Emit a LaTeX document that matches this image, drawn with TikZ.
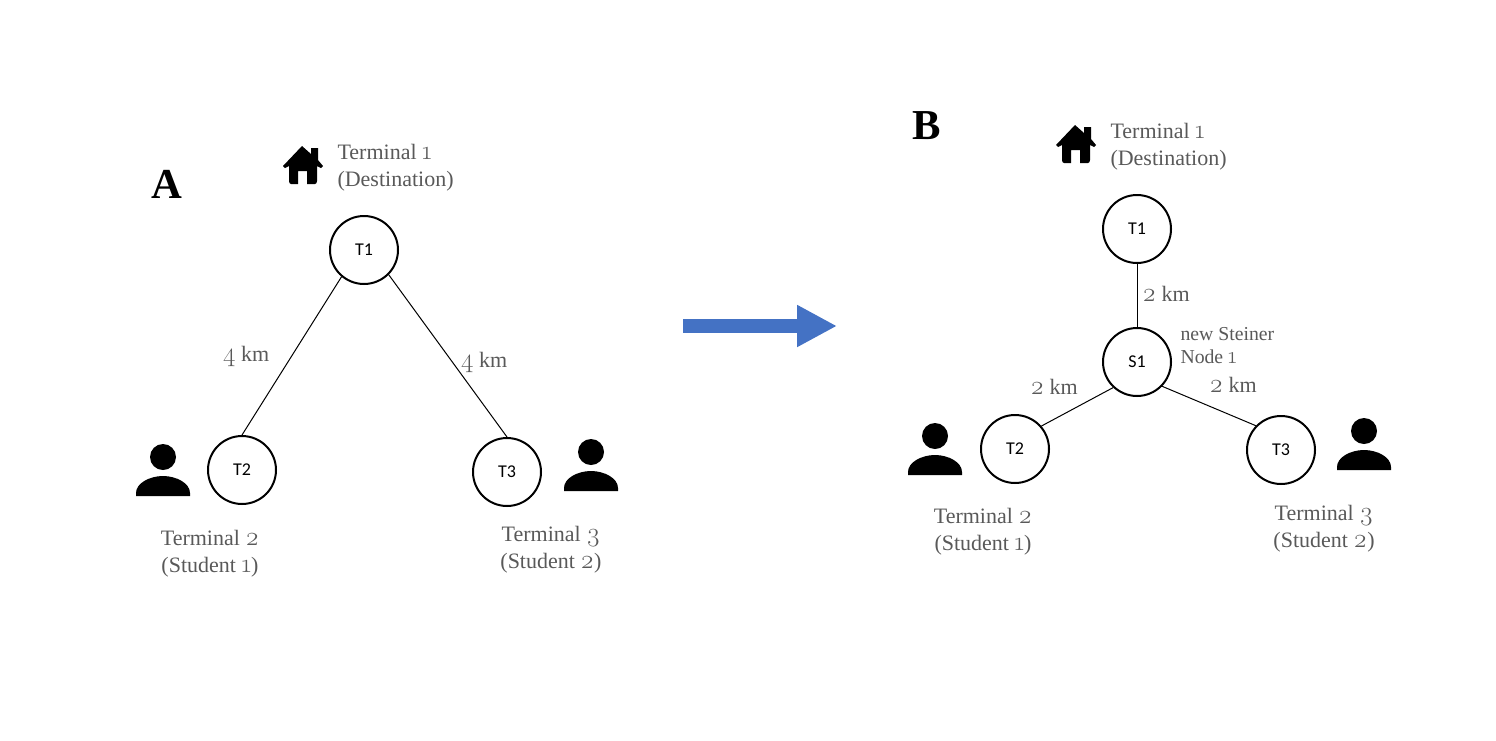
\documentclass[tikz,border=0pt]{standalone}
\usepackage{fontspec}
\setmainfont{Liberation Serif}
\newfontfamily\labelfont{Carlito}
\newfontfamily\numfont{Latin Modern Roman}[Numbers=OldStyle, Scale=1.2]
\newcommand{\onum}[1]{{\numfont #1}}
\usepackage{tikz}
\usetikzlibrary{arrows.meta, automata}
\definecolor{textgray}{HTML}{595959}
\definecolor{arrowblue}{HTML}{4472C4}

\begin{document}
\begin{tikzpicture}[
            x = 0.75pt,
            y = -0.75pt,
            semithick,
            line width = 0.75pt,
            caption/.style = {text = textgray, align = center, font = \fontsize{16.5}{20.2}\selectfont, inner sep = 0pt},
            leftcaption/.style = {caption, align = left, anchor = west},
            smallcaption/.style = {text = textgray, align = left, anchor = west, font = \fontsize{14.8}{17.2}\selectfont, inner sep = 0pt},
            letter/.style = {font = \fontsize{32}{36}\selectfont\bfseries, inner sep = 0pt},
            person/.pic = {
                \fill (0,0) circle [radius = 9.75pt];
                \fill (-27,39) -- (-27,36) .. controls (-27,26) and (-13,19) .. (0,19)
                    .. controls (13,19) and (27,26) .. (27,36) -- (27,39) -- cycle;
            },
            house/.pic = {
                \fill (-1,-20) -- (8,-12) -- (8,-18) -- (15,-18) -- (15,-6) -- (20,0) -- (18,2)
                    -- (14,0) -- (14,15) .. controls (14,17) and (13,18) .. (12,18) -- (4,18) -- (4,5) -- (-5,5) -- (-5,18)
                    -- (-12,18) .. controls (-13,18) and (-14,17) .. (-14,15) -- (-14,0) -- (-18,2) -- (-20,0) -- cycle;
            }
        ]

        \tikzstyle{every state}=[
            draw = black,
            line width = 1.5pt,
            fill = white,
            minimum size = 51pt,
            inner sep = 0pt,
            font = \labelfont\fontsize{13.5}{15}\selectfont
        ]

        \useasboundingbox (0,0) rectangle (1496,740);

        % left graph
        \node[state] (T1a) at (364,250) {T1};
        \node[state] (T2a) at (242,470) {T2};
        \node[state] (T3a) at (507,472) {T3};

        \path (T1a.-130) edge (T2a.north);
        \path (T1a.-45) edge (T3a.north);

        \node[letter] (A) at (167,184) {A};
        \node[leftcaption] (dest1a) at (337,168) {Terminal \onum{1}\\(Destination)};
        \node[caption] (term2a) at (210,554) {Terminal \onum{2}\\(Student \onum{1})};
        \node[caption] (term3a) at (551,550) {Terminal \onum{3}\\(Student \onum{2})};
        \node[caption] (d12a) at (246,356) {\onum{4} km};
        \node[caption] (d13a) at (484,362) {\onum{4} km};

        \pic at (303,166) {house};
        \pic at (163,457) {person};
        \pic at (591,452) {person};

        % right graph
        \node[state] (T1b) at (1137,229) {T1};
        \node[state] (S1) at (1137,362) {S1};
        \node[state] (T2b) at (1015,449) {T2};
        \node[state] (T3b) at (1281,450) {T3};

        \path (T1b.south) edge (S1.north);
        \path (S1.-133) edge (T2b.41);
        \path (S1.-44) edge (T3b.136);

        \node[letter] (B) at (927,126) {B};
        \node[leftcaption] (dest1b) at (1110,147) {Terminal \onum{1}\\(Destination)};
        \node[caption] (term2b) at (983,532) {Terminal \onum{2}\\(Student \onum{1})};
        \node[caption] (term3b) at (1324,529) {Terminal \onum{3}\\(Student \onum{2})};
        \node[caption] (d1b) at (1166,294) {\onum{2} km};
        \node[caption] (d2b) at (1054,387) {\onum{2} km};
        \node[caption] (d3b) at (1233,385) {\onum{2} km};
        \node[smallcaption] (steiner) at (1180,346) {new Steiner\\Node \onum{1}};

        \pic at (1076,145) {house};
        \pic at (935,436) {person};
        \pic at (1364,431) {person};

        % arrow between the graphs
        \coordinate (from) at (683,326);
        \coordinate (to) at (837,326);
        \draw[arrowblue, line width = 10.5pt, -{Triangle[length=30pt, width=29.5pt]}] (from) -- (to);

    \end{tikzpicture}
\end{document}
